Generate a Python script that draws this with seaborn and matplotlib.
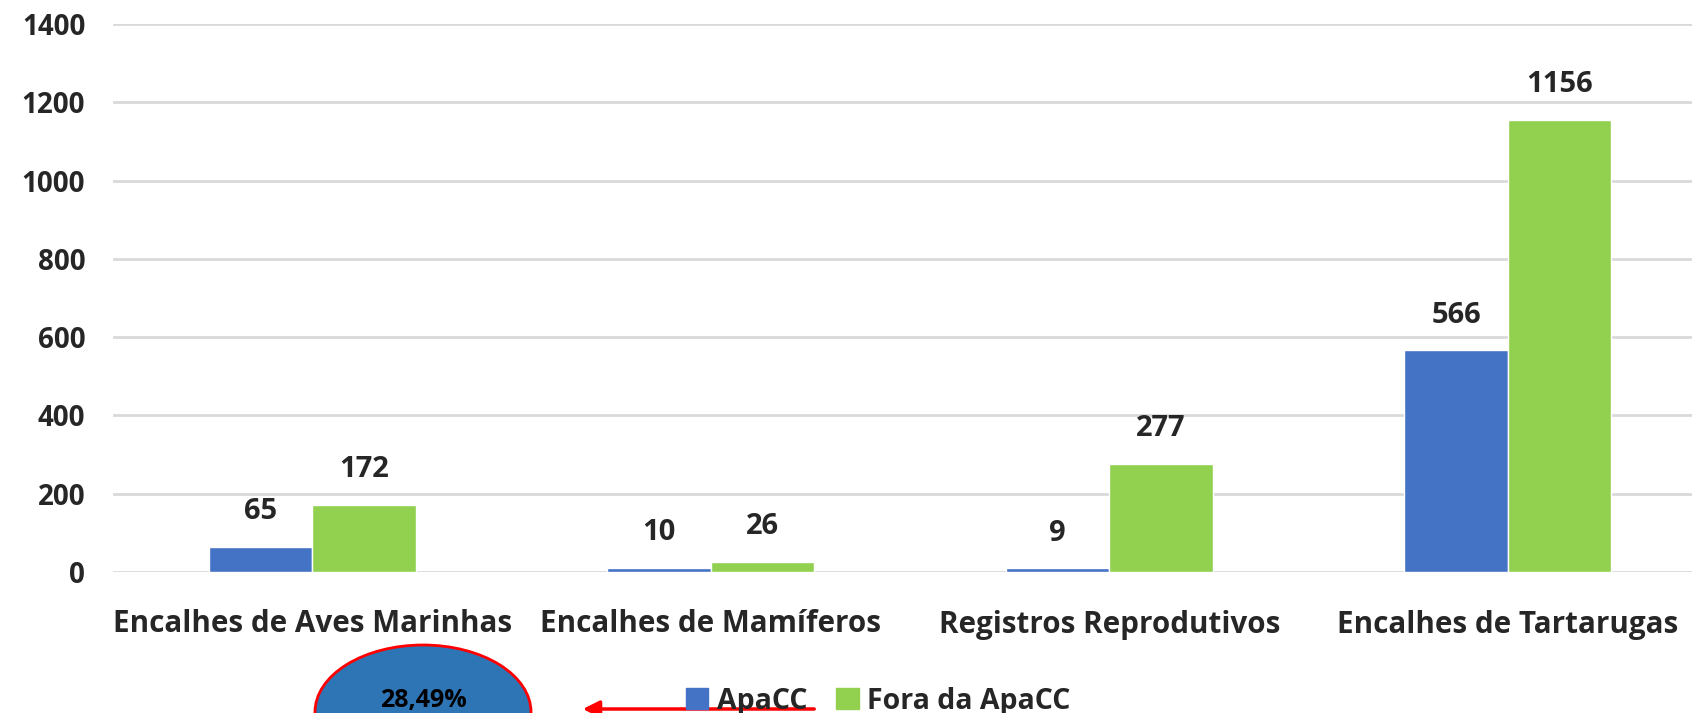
import seaborn as sns
import pandas as pd
import matplotlib.pyplot as plt
from matplotlib.patches import Ellipse

categorias = ['Encalhes de Aves Marinhas', 'Encalhes de Mamíferos',
              'Registros Reprodutivos', 'Encalhes de Tartarugas']
apacc = [65, 10, 9, 566]
fora_apacc = [172, 26, 277, 1156]
series = ['ApaCC', 'Fora da ApaCC']
cores = ['#4472C4', '#92D050']
yticks = [0, 200, 400, 600, 800, 1000, 1200, 1400]
percentual = '28,49%'

sns.set_theme(style='white')
plt.rcParams['font.family'] = ['Open Sans', 'DejaVu Sans']
plt.rcParams['font.weight'] = 'bold'

df = pd.DataFrame({
    'Categoria': categorias * 2,
    'Serie': [series[0]] * 4 + [series[1]] * 4,
    'Valor': apacc + fora_apacc,
})

W, H = 1692, 713
fig = plt.figure(figsize=(W / 100, H / 100), dpi=100)
ax = fig.add_axes([113 / W, 141 / H, 1594 / W, 548 / H])

sns.barplot(data=df, x='Categoria', y='Valor', hue='Serie', palette=cores,
            width=0.52, gap=0, saturation=1, ax=ax, legend=False)

ax.set_ylim(0, 1400)
ax.set_xlim(-0.5, 3.5)
ax.set_yticks(yticks)
ax.set_yticklabels([str(t) for t in yticks], fontsize=20, fontweight='bold')
ax.set_xticklabels(categorias, fontsize=21.3, fontweight='bold')
ax.tick_params(axis='y', length=0, pad=20)
ax.tick_params(axis='x', length=0, pad=27)
ax.set_xlabel('')
ax.set_ylabel('')
for s in ax.spines.values():
    s.set_visible(False)
ax.grid(True, axis='y', color='#D9D9D9', linewidth=2)
ax.set_axisbelow(True)

for cont in ax.containers:
    ax.bar_label(cont, fmt='%d', padding=15, fontsize=21, fontweight='bold')

# legenda
handles = [plt.Rectangle((0, 0), 1, 1, color=c) for c in cores]
fig.legend(handles, series, loc='center', bbox_to_anchor=(878 / W, 12 / H),
           ncol=2, frameon=False, handlelength=0.8,
           handleheight=0.8, handletextpad=0.3, columnspacing=1.0,
           prop={'weight': 'bold', 'size': 20.5})

# elipse com percentual e seta
el = Ellipse((423 / W, 1 / H), 216 / W, 134 / H, transform=fig.transFigure,
             facecolor='#2E75B6', edgecolor='#FF0000', linewidth=2, clip_on=False)
fig.add_artist(el)
fig.text(423 / W, 12 / H, percentual, ha='center', va='center', fontsize=18,
         fontweight='bold', color='black')
ax.annotate('', xy=(580 / W, 4 / H), xytext=(817 / W, 4 / H),
            xycoords='figure fraction', textcoords='figure fraction',
            arrowprops=dict(arrowstyle='-|>', color='#FF0000', lw=2.5,
                            mutation_scale=25))

fig.savefig('out.png', dpi=100)
